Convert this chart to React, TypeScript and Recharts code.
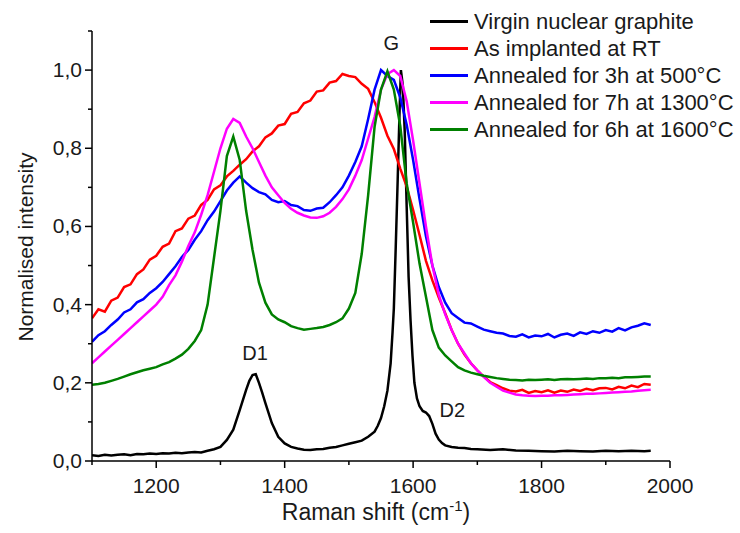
import React from 'react';
import { LineChart, Line, XAxis, YAxis, ReferenceDot, Label } from 'recharts';

// Raman shift grid (cm-1) shared by the four damaged / annealed spectra
const shift = [
  1100, 1110, 1120, 1130, 1140, 1150, 1160, 1170, 1180, 1190,
  1200, 1210, 1220, 1230, 1240, 1250, 1260, 1270, 1280, 1290,
  1300, 1310, 1320, 1330, 1340, 1350, 1360, 1370, 1380, 1390,
  1400, 1410, 1420, 1430, 1440, 1450, 1460, 1470, 1480, 1490,
  1500, 1510, 1520, 1530, 1540, 1550, 1560, 1570, 1580, 1590,
  1600, 1610, 1620, 1630, 1640, 1650, 1660, 1670, 1680, 1690,
  1700, 1710, 1720, 1730, 1740, 1750, 1760, 1770, 1780, 1790,
  1800, 1810, 1820, 1830, 1840, 1850, 1860, 1870, 1880, 1890,
  1900, 1910, 1920, 1930, 1940, 1950, 1960, 1970,
];

const asImplanted = [
  0.365, 0.388, 0.382, 0.41, 0.418, 0.445, 0.452, 0.478, 0.49, 0.515,
  0.525, 0.548, 0.556, 0.588, 0.595, 0.62, 0.628, 0.655, 0.668, 0.695,
  0.705, 0.728, 0.742, 0.758, 0.772, 0.792, 0.805, 0.828, 0.838, 0.858,
  0.862, 0.888, 0.893, 0.915, 0.922, 0.945, 0.948, 0.968, 0.972, 0.99,
  0.985, 0.982, 0.965, 0.952, 0.918, 0.878, 0.832, 0.798, 0.748, 0.702,
  0.642, 0.578, 0.512, 0.462, 0.418, 0.378, 0.335, 0.3, 0.272, 0.25,
  0.232, 0.216, 0.202, 0.194, 0.186, 0.18, 0.178, 0.182, 0.174, 0.179,
  0.176, 0.181, 0.175, 0.18, 0.177, 0.183, 0.179, 0.185, 0.181, 0.186,
  0.187, 0.183, 0.19, 0.186, 0.193, 0.189, 0.197, 0.195,
];

const annealed500 = [
  0.305, 0.322, 0.332, 0.348, 0.362, 0.38, 0.388, 0.406, 0.414, 0.43,
  0.442, 0.458, 0.478, 0.498, 0.522, 0.54, 0.566, 0.588, 0.616, 0.638,
  0.665, 0.692, 0.712, 0.728, 0.712, 0.698, 0.688, 0.682, 0.668, 0.662,
  0.665, 0.655, 0.652, 0.642, 0.64, 0.646, 0.648, 0.662, 0.68, 0.7,
  0.73, 0.765, 0.805, 0.875, 0.95, 1.0, 0.985, 0.975, 0.93, 0.86,
  0.77, 0.67, 0.575, 0.5, 0.445, 0.405, 0.378, 0.366, 0.354, 0.352,
  0.344, 0.336, 0.332, 0.328, 0.326, 0.32, 0.318, 0.324, 0.316, 0.321,
  0.319, 0.325, 0.316, 0.323, 0.326, 0.32, 0.329, 0.325, 0.332, 0.328,
  0.335, 0.331, 0.34, 0.334, 0.342, 0.346, 0.352, 0.348,
];

const annealed1300 = [
  0.25, 0.265, 0.28, 0.295, 0.31, 0.325, 0.34, 0.355, 0.37, 0.385,
  0.4, 0.42, 0.45, 0.475, 0.51, 0.55, 0.585, 0.63, 0.68, 0.74,
  0.8, 0.85, 0.875, 0.865, 0.83, 0.8, 0.765, 0.73, 0.7, 0.68,
  0.66, 0.645, 0.635, 0.628, 0.623, 0.622, 0.626, 0.635, 0.65, 0.67,
  0.695, 0.73, 0.77, 0.825, 0.88, 0.95, 0.99, 1.0, 0.985, 0.92,
  0.82, 0.71, 0.6, 0.5, 0.425, 0.375, 0.335, 0.3, 0.275, 0.25,
  0.232, 0.215, 0.2, 0.19, 0.18, 0.175, 0.17, 0.168, 0.167, 0.166,
  0.167, 0.167, 0.168, 0.168, 0.169, 0.17, 0.171, 0.172, 0.172, 0.173,
  0.174, 0.175, 0.176, 0.177, 0.178, 0.18, 0.181, 0.182,
];

const annealed1600 = [
  0.195, 0.197, 0.2, 0.205, 0.21, 0.216, 0.222, 0.227, 0.232, 0.236,
  0.24, 0.247, 0.253, 0.262, 0.272, 0.287, 0.307, 0.335, 0.4, 0.52,
  0.64, 0.78, 0.83, 0.77, 0.64, 0.54, 0.456, 0.405, 0.375, 0.362,
  0.355, 0.345, 0.34, 0.336, 0.338, 0.34, 0.343, 0.348, 0.355, 0.365,
  0.39, 0.43, 0.53, 0.68, 0.855, 0.95, 0.997, 0.95, 0.857, 0.71,
  0.61, 0.505, 0.42, 0.335, 0.29, 0.27, 0.255, 0.24, 0.232, 0.226,
  0.222, 0.218, 0.215, 0.212, 0.21, 0.208, 0.207, 0.206, 0.208, 0.207,
  0.208, 0.209, 0.207, 0.209, 0.21, 0.209, 0.21, 0.211, 0.21, 0.212,
  0.212, 0.213, 0.212, 0.214, 0.214, 0.215, 0.216, 0.216,
];

// virgin graphite has a very narrow G band, so it gets its own denser grid
const virginShift = [
  1100, 1110, 1120, 1130, 1140, 1150, 1160, 1170, 1180, 1190,
  1200, 1210, 1220, 1230, 1240, 1250, 1260, 1270, 1280, 1290,
  1300, 1310, 1320, 1330, 1340, 1345, 1350, 1355, 1360, 1365,
  1370, 1380, 1390, 1400, 1410, 1420, 1430, 1440, 1450, 1460,
  1470, 1480, 1490, 1500, 1510, 1520, 1530, 1540, 1545, 1550,
  1555, 1560, 1565, 1568, 1570, 1573, 1576, 1579, 1581, 1584,
  1587, 1590, 1593, 1596, 1599, 1602, 1606, 1610, 1615, 1620,
  1625, 1630, 1635, 1640, 1645, 1650, 1660, 1670, 1680, 1690,
  1700, 1720, 1740, 1760, 1780, 1800, 1820, 1840, 1860, 1880,
  1900, 1920, 1940, 1960, 1970,
];

const virgin = [
  0.015, 0.013, 0.016, 0.014, 0.016, 0.017, 0.015, 0.018, 0.017, 0.019,
  0.018, 0.02, 0.019, 0.021, 0.02, 0.022, 0.023, 0.022, 0.026, 0.03,
  0.036, 0.054, 0.08, 0.13, 0.182, 0.205, 0.22, 0.222, 0.2, 0.175,
  0.148, 0.097, 0.062, 0.045, 0.036, 0.032, 0.029, 0.028, 0.03, 0.031,
  0.034, 0.036, 0.04, 0.044, 0.048, 0.052, 0.062, 0.075, 0.09, 0.11,
  0.14, 0.18, 0.25, 0.33, 0.39, 0.55, 0.72, 0.9, 1.0, 0.96,
  0.84, 0.65, 0.47, 0.36, 0.27, 0.2, 0.16, 0.14, 0.128, 0.124,
  0.115, 0.095, 0.07, 0.055, 0.046, 0.04, 0.036, 0.034, 0.033, 0.031,
  0.03, 0.028, 0.03, 0.027, 0.026, 0.025, 0.024, 0.026, 0.025, 0.024,
  0.026, 0.025, 0.026, 0.025, 0.026,
];

const xTicks = [1100, 1200, 1300, 1400, 1500, 1600, 1700, 1800, 1900, 2000];
const yTicks = [0, 0.1, 0.2, 0.3, 0.4, 0.5, 0.6, 0.7, 0.8, 0.9, 1.0, 1.1];

const bandNames = ['G', 'D1', 'D2'];
const bandShift = [1566, 1354, 1661];
const bandLevel = [1.069, 0.277, 0.131];

const FONT = '"Liberation Sans", Arial, sans-serif';
const PLOT_LEFT = 92;
const PLOT_BOTTOM = 461;

const toPoints = (xs: number[], ys: number[]) => xs.map((x, i) => ({ x, y: ys[i] }));

const series = [
  { name: 'Virgin nuclear graphite', color: '#000000', data: toPoints(virginShift, virgin) },
  { name: 'As implanted at RT', color: '#ff0000', data: toPoints(shift, asImplanted) },
  { name: 'Annealed for 3h at 500°C', color: '#0000ff', data: toPoints(shift, annealed500) },
  { name: 'Annealed for 7h at 1300°C', color: '#ff00ff', data: toPoints(shift, annealed1300) },
  { name: 'Annealed for 6h at 1600°C', color: '#008000', data: toPoints(shift, annealed1600) },
];

const XTick = (props: any) => {
  const { x, payload } = props;
  const major = payload.value % 200 === 0;
  return (
    <g>
      <line x1={x} x2={x} y1={PLOT_BOTTOM} y2={PLOT_BOTTOM + (major ? 7 : 4)} stroke="#000" strokeWidth={1.5} />
      {major && (
        <text x={x} y={PLOT_BOTTOM + 32} textAnchor="middle" fontSize={21} fontFamily={FONT} fill="#1a1a1a">
          {payload.value}
        </text>
      )}
    </g>
  );
};

const YTick = (props: any) => {
  const { y, payload } = props;
  const major = Math.round(payload.value * 10) % 2 === 0;
  return (
    <g>
      <line x1={PLOT_LEFT - (major ? 7 : 4)} x2={PLOT_LEFT} y1={y} y2={y} stroke="#000" strokeWidth={1.5} />
      {major && (
        <text x={82} y={y + 7} textAnchor="end" fontSize={21} fontFamily={FONT} fill="#1a1a1a">
          {payload.value.toFixed(1).replace('.', ',')}
        </text>
      )}
    </g>
  );
};

const RamanChart: React.FC = () => {
  return (
    <div style={{ position: 'absolute', left: 0, top: 0, width: 740, height: 533, background: '#fff' }}>
      <LineChart width={740} height={533} margin={{ top: 31, right: 70, bottom: 0, left: 0 }}>
        <XAxis
          type="number"
          dataKey="x"
          domain={[1100, 2000]}
          ticks={xTicks}
          interval={0}
          height={72}
          tick={<XTick />}
          tickLine={false}
          axisLine={{ stroke: '#000', strokeWidth: 1.5 }}
          allowDataOverflow
        >
          <Label
            content={() => (
              <text x={376} y={520} textAnchor="middle" fontSize={23} fontFamily={FONT} fill="#1a1a1a">
                Raman shift (cm
                <tspan dy={-9} fontSize={15}>-1</tspan>
                <tspan dy={9}>)</tspan>
              </text>
            )}
          />
        </XAxis>
        <YAxis
          type="number"
          dataKey="y"
          domain={[0, 1.1]}
          ticks={yTicks}
          interval={0}
          width={92}
          tick={<YTick />}
          tickLine={false}
          axisLine={{ stroke: '#000', strokeWidth: 1.5 }}
          allowDataOverflow
        >
          <Label
            content={() => (
              <text
                x={33}
                y={247}
                transform="rotate(-90, 33, 247)"
                textAnchor="middle"
                fontSize={21}
                fontFamily={FONT}
                fill="#1a1a1a"
              >
                Normalised intensity
              </text>
            )}
          />
        </YAxis>
        {series.map((s) => (
          <Line
            key={s.name}
            data={s.data}
            dataKey="y"
            name={s.name}
            type="linear"
            stroke={s.color}
            strokeWidth={2.5}
            dot={false}
            isAnimationActive={false}
          />
        ))}
        {bandNames.map((b, i) => (
          <ReferenceDot
            key={b}
            x={bandShift[i]}
            y={bandLevel[i]}
            r={0}
            fill="none"
            stroke="none"
            label={{ value: b, position: 'center', fontSize: 20, fontFamily: FONT, fill: '#1a1a1a' }}
          />
        ))}
      </LineChart>

      {/* legend */}
      <div style={{ position: 'absolute', left: 430, top: 8, fontFamily: FONT, fontSize: 22, color: '#1a1a1a' }}>
        {series.map((s) => (
          <div key={s.name} style={{ display: 'flex', alignItems: 'center', height: 27, whiteSpace: 'nowrap' }}>
            <div style={{ width: 38, height: 3, background: s.color, marginRight: 6 }} />
            <span>{s.name}</span>
          </div>
        ))}
      </div>
    </div>
  );
};

export default RamanChart;
